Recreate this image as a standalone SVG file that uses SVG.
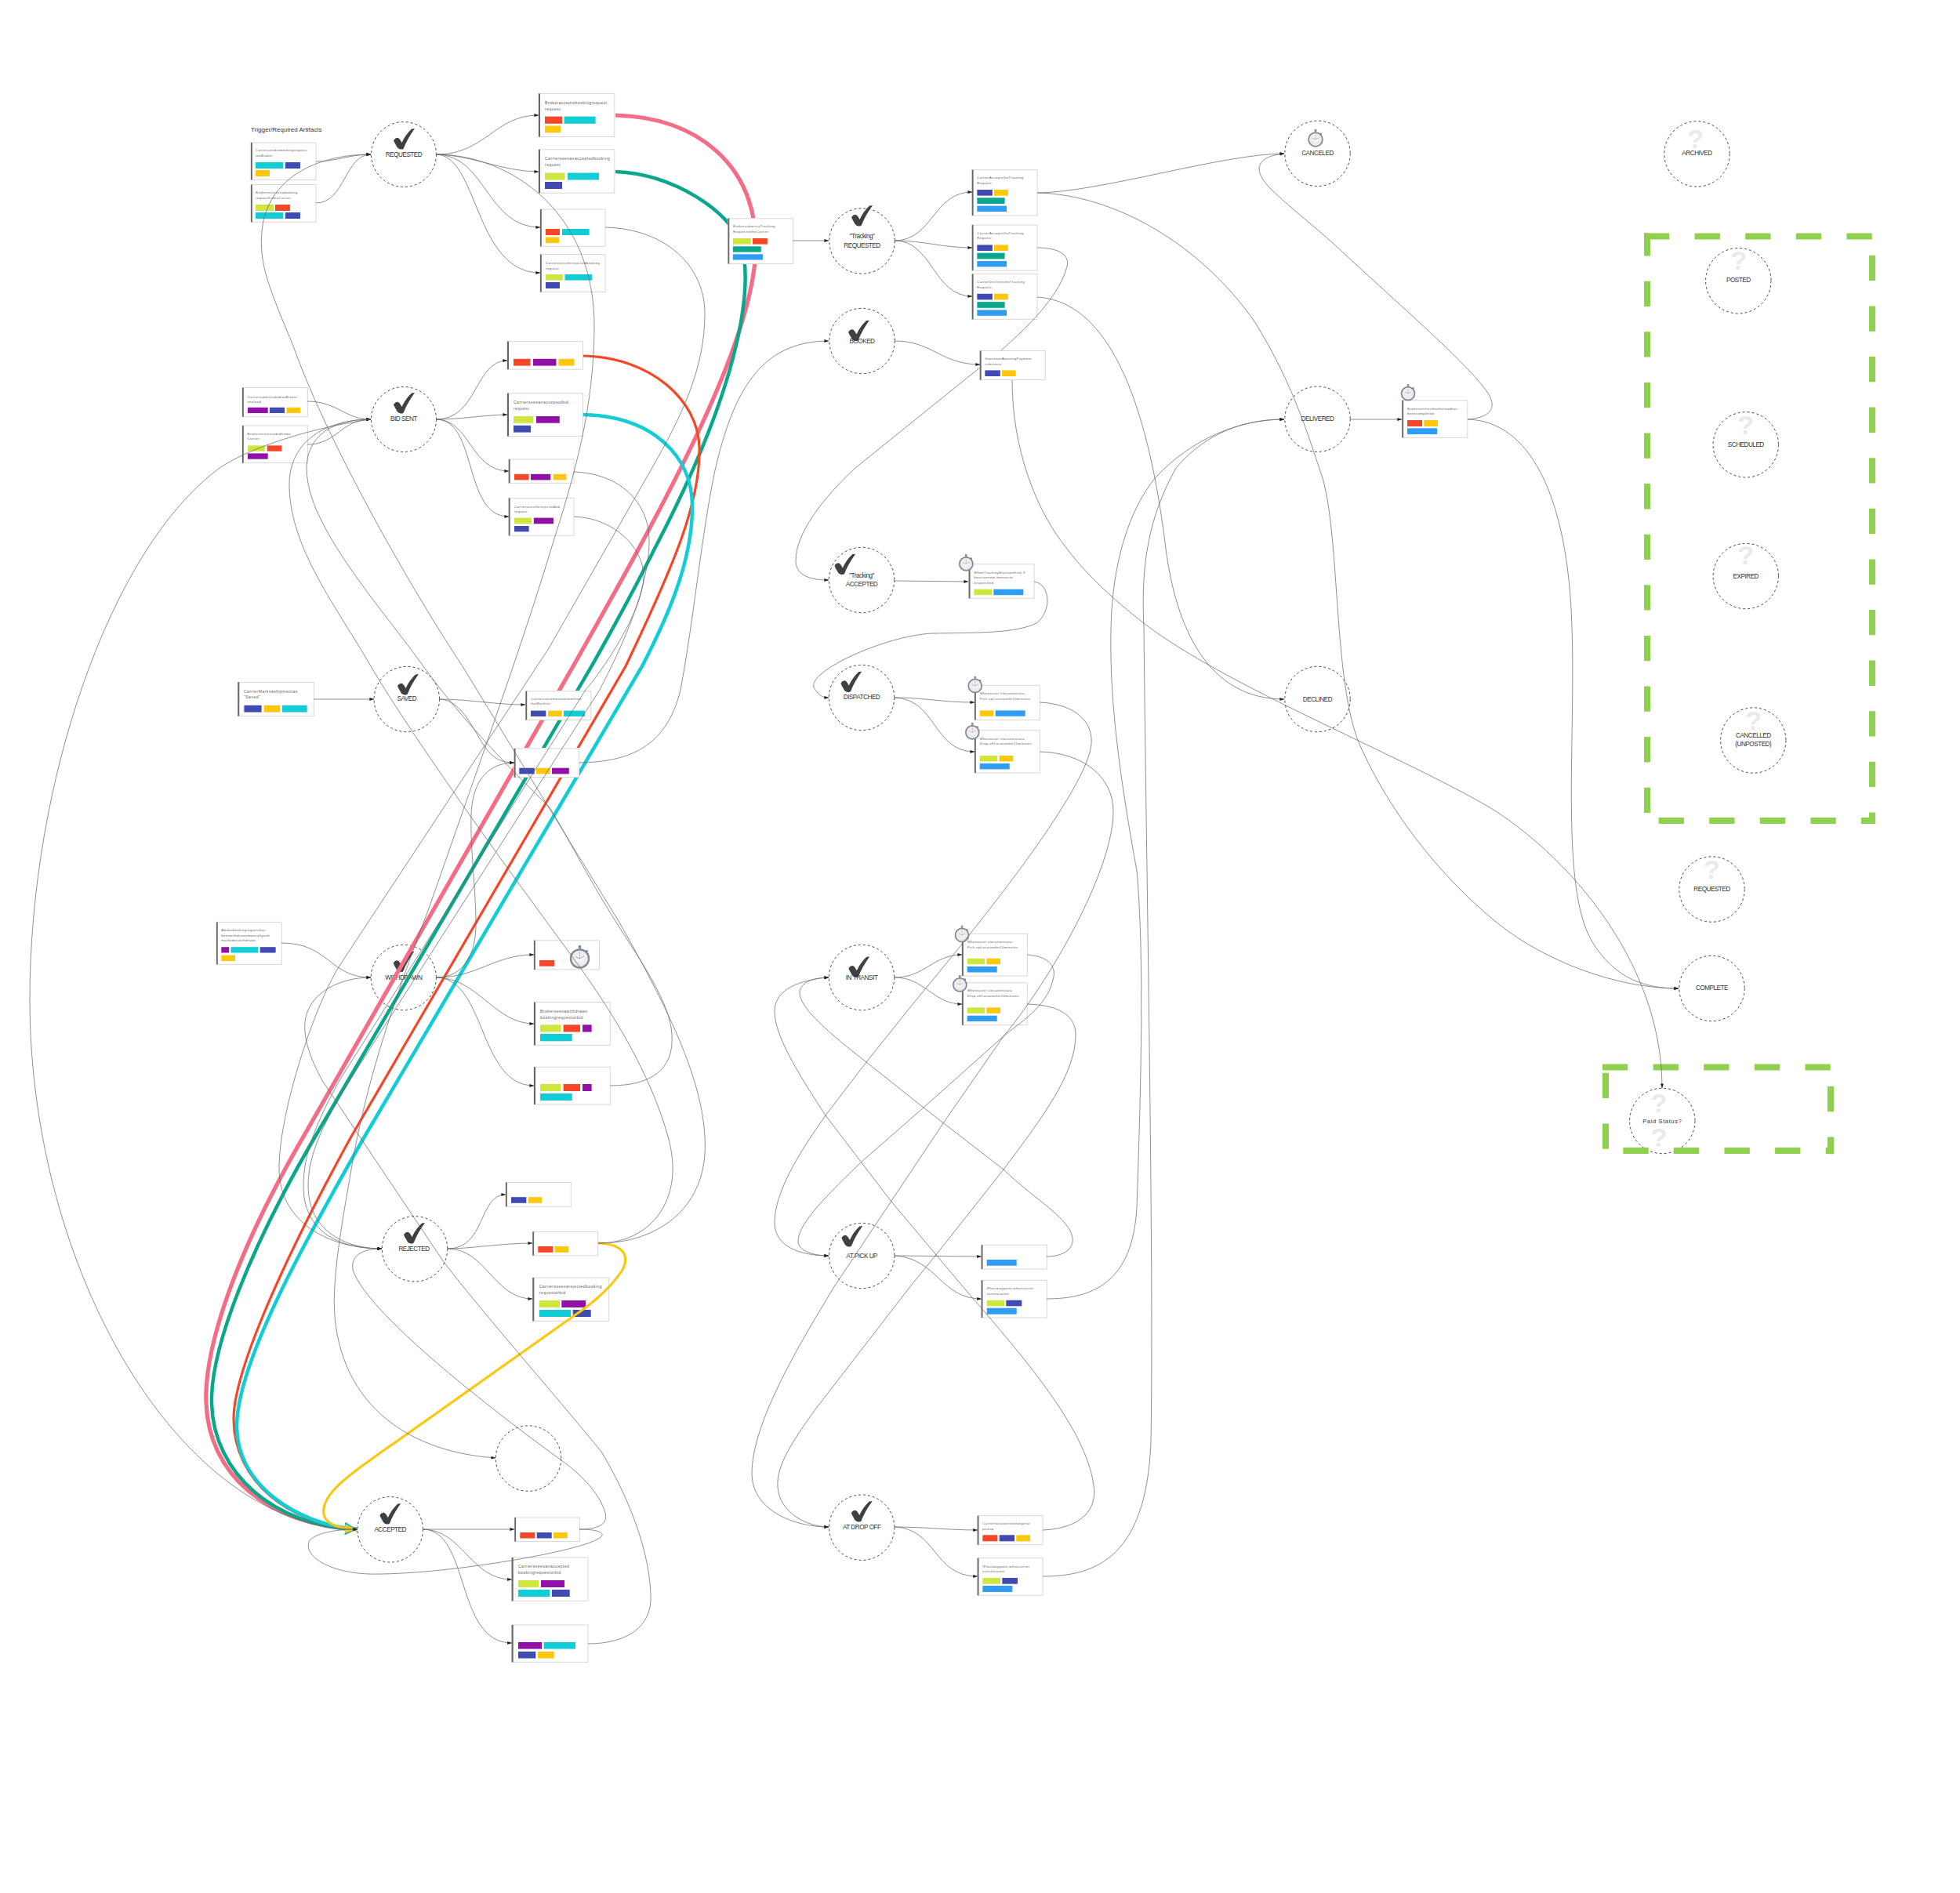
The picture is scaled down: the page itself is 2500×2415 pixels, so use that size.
<svg xmlns="http://www.w3.org/2000/svg" width="2500" height="2415" viewBox="0 0 2500 2415">
<style>
text{font-family:"Liberation Sans",Arial,sans-serif}
.box{fill:#fff;stroke:#d8d8d8;stroke-width:1}
.edge{fill:#666}
.st{fill:#fff;stroke:#444;stroke-width:1;stroke-dasharray:3 3}
.lb{font-size:8.2px;letter-spacing:-.5px;fill:#333;text-anchor:middle}
.s{font-size:4.2px;letter-spacing:.4px;fill:#5c5c5c}
.m{font-size:5px;letter-spacing:.5px;fill:#5c5c5c}
.q{font-size:34px;font-weight:bold;fill:#e9e9e9;text-anchor:middle}
.lime{fill:#cfe63e}.red{fill:#f44727}.cy{fill:#12ccd6}.bl{fill:#3f4bb3}.ye{fill:#fcc70f}.pu{fill:#9110a8}.te{fill:#0aa78a}.sk{fill:#2f9df3}
.zone{stroke:#8fd14f;stroke-width:8;stroke-dasharray:32.3 32.3;fill:none}
.c{fill:none;stroke:#6a6a6a;stroke-width:.75}
.a{marker-end:url(#arr)}
.thick{fill:none}
</style>
<defs>
<marker id="arr" markerUnits="userSpaceOnUse" markerWidth="7" markerHeight="5" refX="5.6" refY="2" orient="auto"><path d="M0 0L6 2L0 4Z" fill="#222"/></marker>
<marker id="hp" markerUnits="userSpaceOnUse" markerWidth="16" markerHeight="16" refX="15" refY="8" orient="auto"><path d="M0 0L15 8L0 16Z" fill="#f26d85"/></marker>
<marker id="ht" markerUnits="userSpaceOnUse" markerWidth="16" markerHeight="16" refX="15" refY="8" orient="auto"><path d="M0 0L15 8L0 16Z" fill="#0aa78a"/></marker>
<marker id="hr" markerUnits="userSpaceOnUse" markerWidth="16" markerHeight="16" refX="15" refY="8" orient="auto"><path d="M0 0L15 8L0 16Z" fill="#f44727"/></marker>
<marker id="hc" markerUnits="userSpaceOnUse" markerWidth="16" markerHeight="16" refX="15" refY="8" orient="auto"><path d="M0 0L15 8L0 16Z" fill="#12ccd6"/></marker>
<marker id="hy" markerUnits="userSpaceOnUse" markerWidth="16" markerHeight="16" refX="15" refY="8" orient="auto"><path d="M0 2.700L15 8L0 13.300Z" fill="#fcc70f"/></marker>
<symbol id="chk" viewBox="0 0 27 27"><path d="M0 15Q3 11 6 12Q8 13 10.500 18Q15 8 23 .5L27 0Q17 14 13 25Q12 27 9 26.500Q5 26 3 21Q1 18 0 15Z" fill="#404040"/></symbol>
<radialGradient id="face" cx=".5" cy=".45" r=".6"><stop offset="0" stop-color="#fafafa"/><stop offset=".8" stop-color="#e6e7e9"/><stop offset="1" stop-color="#b9bdc4"/></radialGradient>
<symbol id="watch" viewBox="0 0 20 24"><rect x="8.600" y="0" width="2.800" height="3.500" fill="#8a919c"/><circle cx="17" cy="6" r="1.300" fill="#6c86a8"/><circle cx="10" cy="13.500" r="9.300" fill="url(#face)" stroke="#7f8793" stroke-width="1.800"/><path d="M10 13.500L10 6.500" stroke="#e58f72" stroke-width=".6" fill="none"/><path d="M10 13.500L5.500 11.500M10 13.500L14.500 11" stroke="#777" stroke-width=".5" fill="none"/></symbol>
<mask id="behind" maskUnits="userSpaceOnUse" x="0" y="0" width="2500" height="2415"><rect width="2500" height="2415" fill="#fff"/><rect x="928" y="278" width="84" height="59" fill="#000"/><rect x="670" y="881" width="84" height="38" fill="#000"/><rect x="655" y="954" width="84" height="38" fill="#000"/><rect x="1249" y="447" width="85" height="38" fill="#000"/></mask>
</defs>
<rect width="2500" height="2415" fill="#fff"/>
<text x="320" y="168" font-size="8" fill="#333">Trigger/Required Artifacts</text>

<g id="st-requested"><circle class="st" cx="515" cy="197" r="41.500"/><use href="#chk" x="502" y="164" width="27" height="27"/><text class="lb" x="515" y="199.700">REQUESTED</text></g>
<g id="st-bid-sent"><circle class="st" cx="515" cy="535" r="41.500"/><use href="#chk" x="502" y="501" width="27" height="27"/><text class="lb" x="515" y="537.200">BID SENT</text></g>
<g id="st-saved"><circle class="st" cx="518.800" cy="892" r="41.700"/><use href="#chk" x="507" y="860" width="27" height="27"/><text class="lb" x="518.800" y="894">SAVED</text></g>
<g id="st-withdrawn"><circle class="st" cx="514.800" cy="1247" r="41.600"/><use href="#chk" x="501.600" y="1213.500" width="27" height="27"/><text class="lb" x="514.800" y="1249.700">WITHDRAWN</text></g>
<g id="st-rejected"><circle class="st" cx="529" cy="1593.300" r="41.700"/><use href="#chk" x="515" y="1560" width="27" height="27"/><text class="lb" x="528" y="1596">REJECTED</text></g>
<g id="st-empty"><circle class="st" cx="674" cy="1860.600" r="41.700"/></g>
<g id="st-accepted"><circle class="st" cx="497.700" cy="1951.300" r="41.700"/><use href="#chk" x="484.300" y="1918" width="27" height="27"/><text class="lb" x="497.700" y="1953.700">ACCEPTED</text></g>
<g id="st-tracking-requested"><circle class="st" cx="1099.500" cy="307.500" r="41.700"/><use href="#chk" x="1086" y="262" width="27" height="27"/><text class="lb" x="1099.500" y="304.400">"Tracking"</text><text class="lb" x="1099.500" y="315.500">REQUESTED</text></g>
<g id="st-booked"><circle class="st" cx="1099.500" cy="435" r="41.700"/><use href="#chk" x="1082" y="408.500" width="27" height="27"/><text class="lb" x="1099.500" y="437.700">BOOKED</text></g>
<g id="st-tracking-accepted"><circle class="st" cx="1099" cy="740" r="41.700"/><use href="#chk" x="1064.300" y="706.500" width="27" height="27"/><text class="lb" x="1099" y="737">"Tracking"</text><text class="lb" x="1099" y="748.200">ACCEPTED</text></g>
<g id="st-dispatched"><circle class="st" cx="1099" cy="890" r="41.700"/><use href="#chk" x="1072.300" y="856.500" width="27" height="27"/><text class="lb" x="1099" y="892.100">DISPATCHED</text></g>
<g id="st-in-transit"><circle class="st" cx="1099" cy="1247" r="41.700"/><use href="#chk" x="1082.300" y="1220.300" width="27" height="27"/><text class="lb" x="1099" y="1249.500">IN TRANSIT</text></g>
<g id="st-pick-up"><circle class="st" cx="1099.200" cy="1602" r="41.700"/><use href="#chk" x="1073.300" y="1564" width="27" height="27"/><text class="lb" x="1099.200" y="1604.700">AT PICK UP</text></g>
<g id="st-drop-off"><circle class="st" cx="1099.200" cy="1948.700" r="41.700"/><use href="#chk" x="1085.700" y="1915" width="27" height="27"/><text class="lb" x="1099.200" y="1951">AT DROP OFF</text></g>
<g id="st-canceled"><circle class="st" cx="1680.500" cy="195.800" r="41.700"/><use href="#watch" x="1668" y="165" width="20" height="23"/><text class="lb" x="1680.500" y="198.400">CANCELED</text></g>
<g id="st-delivered"><circle class="st" cx="1680.500" cy="534.700" r="41.700"/><text class="lb" x="1680.500" y="537">DELIVERED</text></g>
<g id="st-declined"><circle class="st" cx="1680.500" cy="892" r="41.700"/><text class="lb" x="1680.500" y="894.700">DECLINED</text></g>
<g id="st-archived"><circle class="st" cx="2164.500" cy="196.400" r="41.700"/><text class="q" x="2162.700" y="188.500">?</text><text class="lb" x="2164.500" y="198.200">ARCHIVED</text></g>
<g id="st-posted"><circle class="st" cx="2217.300" cy="358.200" r="41.700"/><text class="q" x="2217.700" y="343.500">?</text><text class="lb" x="2217.300" y="360">POSTED</text></g>
<g id="st-scheduled"><circle class="st" cx="2226.800" cy="567.300" r="41.700"/><text class="q" x="2226.700" y="553.500">?</text><text class="lb" x="2226.800" y="569.700">SCHEDULED</text></g>
<g id="st-expired"><circle class="st" cx="2226.800" cy="735" r="41.700"/><text class="q" x="2226.700" y="720">?</text><text class="lb" x="2226.800" y="737.700">EXPIRED</text></g>
<g id="st-cancelled-unposted"><circle class="st" cx="2236.300" cy="944.500" r="41.700"/><text class="q" x="2236.700" y="930.500">?</text><text class="lb" x="2236.300" y="941.200">CANCELLED</text><text class="lb" x="2236.300" y="952.100">(UNPOSTED)</text></g>
<g id="st-requested-2"><circle class="st" cx="2183.500" cy="1134.500" r="41.700"/><text class="q" x="2183.300" y="1120.800">?</text><text class="lb" x="2183.500" y="1136.700">REQUESTED</text></g>
<g id="st-complete"><circle class="st" cx="2183.500" cy="1261" r="41.700"/><text class="lb" x="2183.500" y="1263.400">COMPLETE</text></g>
<g id="st-paid"><circle class="st" cx="2120.300" cy="1430" r="41.700"/><text class="q" x="2116" y="1418.500">?</text><text class="q" x="2116" y="1462.500">?</text><text class="lb" x="2120.300" y="1432.700" style="letter-spacing:.6px;font-size:7.6px" fill="#555">Paid  Status?</text></g>

<g id="n-art1"><rect class="box" x="320" y="182" width="83" height="47.500"/><rect class="edge" x="320" y="182" width="1.800" height="47.500"/><text class="s" x="326" y="193">Carriersendsabookingrequest</text><text class="s" x="326" y="200">toaBroker</text><rect class="cy" x="326" y="207" width="35" height="8"/><rect class="bl" x="364" y="207" width="19" height="8"/><rect class="ye" x="326" y="217" width="18" height="8"/></g>
<g id="n-art2"><rect class="box" x="320" y="235.500" width="83" height="47.800"/><rect class="edge" x="320" y="235.500" width="1.800" height="47.800"/><text class="s" x="326" y="247">Brokerreceivesabooking</text><text class="s" x="326" y="254">requestfromaCarrier</text><rect class="lime" x="326" y="261" width="23" height="8"/><rect class="red" x="351" y="261" width="19" height="8"/><rect class="cy" x="326" y="271" width="35" height="8"/><rect class="bl" x="364" y="271" width="19" height="8"/></g>
<g id="n-b1"><rect class="box" x="687" y="119.500" width="96.700" height="55"/><rect class="edge" x="687" y="119.500" width="2" height="55"/><text class="m" x="695" y="133">Brokeracceptsbookingrequest</text><text class="m" x="695" y="140.700">request</text><rect class="red" x="695" y="148.600" width="22" height="9.200"/><rect class="cy" x="719.600" y="148.600" width="40" height="9.200"/><rect class="ye" x="695" y="160.500" width="20" height="8.800"/></g>
<g id="n-b2"><rect class="box" x="687" y="190.700" width="96.700" height="55.500"/><rect class="edge" x="687" y="190.700" width="2" height="55.500"/><text class="m" x="695" y="204">Carrierseesanacceptedbooking</text><text class="m" x="695" y="212">request</text><rect class="lime" x="695" y="220.500" width="25.500" height="9"/><rect class="cy" x="724" y="220.500" width="40" height="9"/><rect class="bl" x="695" y="232" width="22" height="9"/></g>
<g id="n-b3"><rect class="box" x="689" y="267" width="83" height="47.300"/><rect class="edge" x="689" y="267" width="1.800" height="47.300"/><rect class="red" x="696" y="292" width="18" height="8"/><rect class="cy" x="717" y="292" width="34.600" height="8"/><rect class="ye" x="696" y="302.500" width="17" height="7.600"/></g>
<g id="n-b4"><rect class="box" x="689" y="324.600" width="83" height="47.900"/><rect class="edge" x="689" y="324.600" width="1.800" height="47.900"/><text class="s" x="696" y="337">Carriesseestherejectedbooking</text><text class="s" x="696" y="343.500">request</text><rect class="lime" x="696" y="350" width="22" height="7.600"/><rect class="cy" x="720.500" y="350" width="34.500" height="7.600"/><rect class="bl" x="696" y="360" width="18" height="8"/></g>
<g id="n-tracking"><rect class="box" x="928.500" y="278.700" width="83" height="57.800"/><rect class="edge" x="928.500" y="278.700" width="1.800" height="57.800"/><text class="s" x="935" y="290.400">BrokersubmitsaTracking</text><text class="s" x="935" y="296.900">RequesttotheCarrier</text><rect class="lime" x="934.800" y="304" width="23" height="7.600"/><rect class="red" x="960" y="304" width="18.800" height="7.600"/><rect class="te" x="934.800" y="314.300" width="36" height="7.300"/><rect class="sk" x="934.800" y="324.300" width="38.200" height="7.200"/></g>
<g id="n-ca1"><rect class="box" x="1239.800" y="216.700" width="83.200" height="58.300"/><rect class="edge" x="1239.800" y="216.700" width="1.800" height="58.300"/><text class="s" x="1246.300" y="228.300">CarrierAcceptstheTracking</text><text class="s" x="1246.300" y="235">Request</text><rect class="bl" x="1246.300" y="242" width="19.600" height="7.600"/><rect class="ye" x="1268" y="242" width="17.800" height="7.600"/><rect class="te" x="1246.300" y="252.300" width="35.300" height="7.700"/><rect class="sk" x="1246.300" y="262.600" width="37.700" height="7.400"/></g>
<g id="n-ca2"><rect class="box" x="1239.800" y="287" width="83.200" height="58"/><rect class="edge" x="1239.800" y="287" width="1.800" height="58"/><text class="s" x="1246.300" y="298.700">CarrierAcceptstheTracking</text><text class="s" x="1246.300" y="305.400">Request</text><rect class="bl" x="1246.300" y="312.400" width="19.600" height="7.600"/><rect class="ye" x="1268" y="312.400" width="17.800" height="7.600"/><rect class="te" x="1246.300" y="322.700" width="35.300" height="7.700"/><rect class="sk" x="1246.300" y="333" width="37.700" height="7.400"/></g>
<g id="n-cd"><rect class="box" x="1239.800" y="349.500" width="83.200" height="57.800"/><rect class="edge" x="1239.800" y="349.500" width="1.800" height="57.800"/><text class="s" x="1246.300" y="361.100">CarrierDeclinestheTracking</text><text class="s" x="1246.300" y="367.800">Request</text><rect class="bl" x="1246.300" y="374.800" width="19.600" height="7.600"/><rect class="ye" x="1268" y="374.800" width="17.800" height="7.600"/><rect class="te" x="1246.300" y="385.100" width="35.300" height="7.700"/><rect class="sk" x="1246.300" y="395.400" width="37.700" height="7.400"/></g>
<g id="n-awaiting"><rect class="box" x="1249.800" y="447.500" width="83.400" height="37.100"/><rect class="edge" x="1249.800" y="447.500" width="1.800" height="37.100"/><text class="s" x="1256.300" y="459">GoestoanAwaitingPayment</text><text class="s" x="1256.300" y="465.600">substatus</text><rect class="bl" x="1256.300" y="472.400" width="19.500" height="7.600"/><rect class="ye" x="1278" y="472.400" width="17.700" height="7.600"/></g>
<g id="n-art3"><rect class="box" x="309" y="494.600" width="83.400" height="37.100"/><rect class="edge" x="309" y="494.600" width="1.800" height="37.100"/><text class="s" x="315.500" y="507.500">CarriersubmitsabidtoaBroker</text><text class="s" x="315.500" y="514">onaload</text><rect class="pu" x="316" y="519.800" width="25.700" height="7.200"/><rect class="bl" x="344" y="519.800" width="19" height="7.200"/><rect class="ye" x="365.600" y="519.800" width="17.400" height="7.200"/></g>
<g id="n-art4"><rect class="box" x="309" y="543" width="83.400" height="47.600"/><rect class="edge" x="309" y="543" width="1.800" height="47.600"/><text class="s" x="315.500" y="554.500">Brokerreceivesabidfroma</text><text class="s" x="315.500" y="561">Carrier</text><rect class="lime" x="316" y="568.400" width="22" height="7.300"/><rect class="red" x="340.700" y="568.400" width="18.700" height="7.300"/><rect class="pu" x="316" y="578.400" width="25.700" height="7.300"/></g>
<g id="n-bid1"><rect class="box" x="647" y="435.600" width="96.500" height="35.600"/><rect class="edge" x="647" y="435.600" width="2" height="35.600"/><rect class="red" x="655" y="457.800" width="21.500" height="8.800"/><rect class="pu" x="680" y="457.800" width="29.500" height="8.800"/><rect class="ye" x="712.400" y="457.800" width="20.100" height="8.800"/></g>
<g id="n-bid2"><rect class="box" x="647" y="501.800" width="96.500" height="54.800"/><rect class="edge" x="647" y="501.800" width="2" height="54.800"/><text class="m" x="655" y="515">Carrierseesanacceptedbid</text><text class="m" x="655" y="523">request</text><rect class="lime" x="655" y="531" width="25.300" height="8.700"/><rect class="pu" x="684" y="531" width="29.800" height="8.700"/><rect class="bl" x="655" y="542.800" width="22" height="8.800"/></g>
<g id="n-bid3"><rect class="box" x="648.800" y="586" width="83.200" height="30.300"/><rect class="edge" x="648.800" y="586" width="1.800" height="30.300"/><rect class="red" x="656" y="604.800" width="18.600" height="7.600"/><rect class="pu" x="677" y="604.800" width="25.300" height="7.600"/><rect class="ye" x="705.700" y="604.800" width="16.700" height="7.600"/></g>
<g id="n-bid4"><rect class="box" x="648.800" y="635.400" width="83.200" height="47.800"/><rect class="edge" x="648.800" y="635.400" width="1.800" height="47.800"/><text class="s" x="656" y="647.500">Carrierseestherejectedbid</text><text class="s" x="656" y="654.200">request</text><rect class="lime" x="656" y="660.600" width="22" height="7.700"/><rect class="pu" x="680.800" y="660.600" width="25.200" height="7.700"/><rect class="bl" x="656" y="671" width="18.600" height="7.300"/></g>
<g id="n-saved"><rect class="box" x="303.300" y="870.300" width="97.200" height="43.200"/><rect class="edge" x="303.300" y="870.300" width="2" height="43.200"/><text class="m" x="311" y="883.700">CarrierMarksashipmentas</text><text class="m" x="311" y="891.100">"Saved"</text><rect class="bl" x="311.400" y="899.800" width="22.200" height="8.800"/><rect class="ye" x="336.600" y="899.800" width="20.400" height="8.800"/><rect class="cy" x="360" y="899.800" width="31.700" height="8.800"/></g>
<g id="n-worklist"><rect class="box" x="670.400" y="881.800" width="83.400" height="36.700"/><rect class="edge" x="670.400" y="881.800" width="1.800" height="36.700"/><text class="s" x="677" y="892.600">Carriercanremoveanitemfrom</text><text class="s" x="677" y="899.400">theWorklist</text><rect class="bl" x="677" y="906.600" width="19.400" height="7.400"/><rect class="ye" x="699" y="906.600" width="17.700" height="7.400"/><rect class="cy" x="719" y="906.600" width="27" height="7.400"/></g>
<g id="n-saved2"><rect class="box" x="655.800" y="954.900" width="83" height="36.700"/><rect class="edge" x="655.800" y="954.900" width="1.800" height="36.700"/><rect class="bl" x="662.300" y="979.700" width="19.500" height="7.700"/><rect class="ye" x="684" y="979.700" width="17.700" height="7.700"/><rect class="pu" x="704" y="979.700" width="21.800" height="7.700"/></g>
<g id="n-wd-in"><rect class="box" x="276" y="1176.400" width="83.200" height="54"/><rect class="edge" x="276" y="1176.400" width="1.800" height="54"/><text class="s" x="282.300" y="1188">Abidorbookingrequesthas</text><text class="s" x="282.300" y="1194.900">beenwithdrawnmanuallyand</text><text class="s" x="282.300" y="1201">markedaswithdrawn</text><rect class="pu" x="282.300" y="1208.200" width="9.900" height="7.300"/><rect class="cy" x="294.500" y="1208.200" width="34.900" height="7.300"/><rect class="bl" x="331.700" y="1208.200" width="19.900" height="7.300"/><rect class="ye" x="282.300" y="1218.500" width="17.700" height="7.700"/></g>
<g id="n-wd1"><rect class="box" x="681" y="1199.800" width="83.500" height="37.100"/><rect class="edge" x="681" y="1199.800" width="1.800" height="37.100"/><rect class="red" x="688" y="1225" width="19" height="7.700"/><use href="#watch" x="727" y="1206" width="25" height="30"/></g>
<g id="n-wd2"><rect class="box" x="681" y="1278.600" width="97.300" height="54.800"/><rect class="edge" x="681" y="1278.600" width="2" height="54.800"/><text class="m" x="689" y="1291.700">Brokerseesawithdrawn</text><text class="m" x="689" y="1299.500">bookingrequestorbid</text><rect class="lime" x="689" y="1307.300" width="26.500" height="9.200"/><rect class="red" x="718.600" y="1307.300" width="21.400" height="9.200"/><rect class="pu" x="743" y="1307.300" width="11.600" height="9.200"/><rect class="cy" x="689" y="1319" width="40.700" height="9.300"/></g>
<g id="n-wd3"><rect class="box" x="681" y="1361.300" width="97.300" height="47.700"/><rect class="edge" x="681" y="1361.300" width="2" height="47.700"/><rect class="lime" x="689" y="1383" width="26.500" height="9"/><rect class="red" x="718.600" y="1383" width="21.400" height="9"/><rect class="pu" x="743" y="1383" width="11.600" height="9"/><rect class="cy" x="689" y="1395" width="40.700" height="9"/></g>
<g id="n-r1"><rect class="box" x="645" y="1508.500" width="83.300" height="30.800"/><rect class="edge" x="645" y="1508.500" width="1.800" height="30.800"/><rect class="bl" x="652" y="1527.200" width="19.300" height="7.600"/><rect class="ye" x="673.700" y="1527.200" width="17.600" height="7.600"/></g>
<g id="n-r2"><rect class="box" x="679.300" y="1571.400" width="83.400" height="30.400"/><rect class="edge" x="679.300" y="1571.400" width="1.800" height="30.400"/><rect class="red" x="686.300" y="1590" width="19" height="7.800"/><rect class="ye" x="707.700" y="1590" width="17.600" height="7.800"/></g>
<g id="n-r3"><rect class="box" x="679.300" y="1630" width="97.400" height="55.300"/><rect class="edge" x="679.300" y="1630" width="2" height="55.300"/><text class="m" x="687.700" y="1643.200">Carriersseesarejectedbooking</text><text class="m" x="687.700" y="1650.700">requestorbid</text><rect class="lime" x="687.700" y="1659" width="26.300" height="9"/><rect class="pu" x="716.300" y="1659" width="30.700" height="9"/><rect class="cy" x="687.700" y="1671" width="40.300" height="9"/><rect class="bl" x="730.700" y="1671" width="23" height="9"/></g>
<g id="n-a1"><rect class="box" x="656.300" y="1936" width="83" height="30.500"/><rect class="edge" x="656.300" y="1936" width="1.800" height="30.500"/><rect class="red" x="663.300" y="1955" width="19" height="7.500"/><rect class="bl" x="684.700" y="1955" width="19" height="7.500"/><rect class="ye" x="706" y="1955" width="17.700" height="7.500"/></g>
<g id="n-a2"><rect class="box" x="652.700" y="1987" width="97.300" height="55.400"/><rect class="edge" x="652.700" y="1987" width="2" height="55.400"/><text class="m" x="661" y="2000.300">Carriersseesanaccepted</text><text class="m" x="661" y="2007.700">bookingrequestorbid</text><rect class="lime" x="661" y="2016" width="26" height="9"/><rect class="pu" x="690" y="2016" width="30" height="9"/><rect class="cy" x="661" y="2028" width="40" height="9"/><rect class="bl" x="704" y="2028" width="22.700" height="9"/></g>
<g id="n-a3"><rect class="box" x="652.700" y="2073" width="97.300" height="47.500"/><rect class="edge" x="652.700" y="2073" width="2" height="47.500"/><rect class="pu" x="661" y="2095" width="30" height="8.600"/><rect class="cy" x="693.700" y="2095" width="40.300" height="8.600"/><rect class="bl" x="661" y="2107" width="22.300" height="8.600"/><rect class="ye" x="686" y="2107" width="20.700" height="8.600"/></g>
<g id="n-tb"><rect class="box" x="1235.700" y="719.800" width="83.300" height="43.500"/><rect class="edge" x="1235.700" y="719.800" width="1.800" height="43.500"/><text class="s" x="1242.300" y="731.500">WhenTrackingStartswithin0-3</text><text class="s" x="1242.300" y="738.100">hoursonnow,itmovesto</text><text class="s" x="1242.300" y="744.700">Dispatched</text><rect class="lime" x="1242.300" y="751.700" width="22.700" height="7.500"/><rect class="sk" x="1267.300" y="751.700" width="38" height="7.500"/><use href="#watch" x="1222.300" y="707" width="20" height="22"/></g>
<g id="n-pickup"><rect class="box" x="1243" y="874.400" width="83.300" height="44"/><rect class="edge" x="1243" y="874.400" width="1.800" height="44"/><text class="s" x="1249.700" y="886.100">Whenauser'slocationisata</text><text class="s" x="1249.700" y="892.700">Pick-upLocationfor10minutes</text><rect class="ye" x="1249.700" y="906.400" width="17.600" height="7.400"/><rect class="sk" x="1269.700" y="906.400" width="38" height="7.400"/><use href="#watch" x="1233.700" y="862.600" width="20" height="22"/></g>
<g id="n-dropoff"><rect class="box" x="1243" y="931.700" width="83.300" height="54.300"/><rect class="edge" x="1243" y="931.700" width="1.800" height="54.300"/><text class="s" x="1249.700" y="943.700">Whenauser'slocationisata</text><text class="s" x="1249.700" y="950.400">Drop-offLocationfor10minutes</text><rect class="lime" x="1249.700" y="964" width="22.600" height="7.500"/><rect class="ye" x="1274.700" y="964" width="17.600" height="7.500"/><rect class="sk" x="1249.700" y="974" width="38" height="7.400"/><use href="#watch" x="1230.300" y="922" width="20" height="22"/></g>
<g id="n-tp"><rect class="box" x="1227" y="1191.200" width="83.300" height="53.800"/><rect class="edge" x="1227" y="1191.200" width="1.800" height="53.800"/><text class="s" x="1233.700" y="1202.700">Whenauser'slocationisata</text><text class="s" x="1233.700" y="1209.500">Pick-upLocationfor10minutes</text><rect class="lime" x="1233.700" y="1222.700" width="22.300" height="7.500"/><rect class="ye" x="1258.300" y="1222.700" width="17.700" height="7.500"/><rect class="sk" x="1233.700" y="1233" width="38" height="7.500"/><use href="#watch" x="1217" y="1180.600" width="20" height="22"/></g>
<g id="n-td"><rect class="box" x="1227" y="1253.800" width="83.300" height="53.900"/><rect class="edge" x="1227" y="1253.800" width="1.800" height="53.900"/><text class="s" x="1233.700" y="1265.400">Whenauser'slocationisata</text><text class="s" x="1233.700" y="1272.100">Drop-offLocationfor10minutes</text><rect class="lime" x="1233.700" y="1285.300" width="22.300" height="7.500"/><rect class="ye" x="1258.300" y="1285.300" width="17.700" height="7.500"/><rect class="sk" x="1233.700" y="1295.700" width="38" height="7.300"/><use href="#watch" x="1214.300" y="1244" width="20" height="22"/></g>
<g id="n-p1"><rect class="box" x="1251.700" y="1588.300" width="83.600" height="30.700"/><rect class="edge" x="1251.700" y="1588.300" width="1.800" height="30.700"/><rect class="sk" x="1258.700" y="1607" width="38" height="7.700"/></g>
<g id="n-p2"><rect class="box" x="1251.700" y="1633.300" width="83.600" height="47.700"/><rect class="edge" x="1251.700" y="1633.300" width="1.800" height="47.700"/><text class="s" x="1258.700" y="1645.400">IFlastwaypoint,whencarrier</text><text class="s" x="1258.700" y="1651.700">exitslocation</text><rect class="lime" x="1258.700" y="1658.700" width="22.300" height="7.600"/><rect class="bl" x="1283.300" y="1658.700" width="20" height="7.600"/><rect class="sk" x="1258.700" y="1668.700" width="38" height="8"/></g>
<g id="n-d1"><rect class="box" x="1246.700" y="1933.700" width="83.300" height="37"/><rect class="edge" x="1246.700" y="1933.700" width="1.800" height="37"/><text class="s" x="1253.300" y="1945.400">Carrierlocationisnolongerat</text><text class="s" x="1253.300" y="1951.700">pickup</text><rect class="red" x="1253.300" y="1958.300" width="19" height="8"/><rect class="bl" x="1274.700" y="1958.300" width="19.300" height="8"/><rect class="ye" x="1296.300" y="1958.300" width="17.700" height="8"/></g>
<g id="n-d2"><rect class="box" x="1246.700" y="1987.700" width="83.300" height="47.600"/><rect class="edge" x="1246.700" y="1987.700" width="1.800" height="47.600"/><text class="s" x="1253.300" y="1999.700">IFlastwaypoint,whencarrier</text><text class="s" x="1253.300" y="2006">exitslocation</text><rect class="lime" x="1253.300" y="2013" width="22.700" height="7.700"/><rect class="bl" x="1278.300" y="2013" width="19.700" height="7.700"/><rect class="sk" x="1253.300" y="2023" width="38" height="8"/></g>
<g id="n-verify"><rect class="box" x="1788.300" y="510.700" width="83.400" height="47.600"/><rect class="edge" x="1788.300" y="510.700" width="1.800" height="47.600"/><text class="s" x="1795" y="523">Brokerverifiesthattheloadhas</text><text class="s" x="1795" y="529.400">beencompleted</text><rect class="red" x="1795" y="536" width="19" height="8"/><rect class="ye" x="1816.300" y="536" width="17.700" height="8"/><rect class="sk" x="1795" y="546.300" width="38" height="7.700"/><use href="#watch" x="1786" y="489.700" width="20" height="22"/></g>

<g id="zones">
<line class="zone" x1="2097" y1="301.500" x2="2392" y2="301.500"/>
<line class="zone" x1="2388" y1="325.800" x2="2388" y2="1051"/>
<line class="zone" x1="2392" y1="1047" x2="2105" y2="1047" stroke-dashoffset="14.300"/>
<line class="zone" x1="2101" y1="1037" x2="2101" y2="297.300"/>
<line class="zone" x1="2044" y1="1361.500" x2="2339" y2="1361.500"/>
<line class="zone" x1="2335" y1="1386" x2="2335" y2="1472.300"/>
<line class="zone" x1="2339" y1="1468" x2="2052" y2="1468" stroke-dashoffset="22"/>
<line class="zone" x1="2048" y1="1465.700" x2="2048" y2="1365"/>
</g>

<g id="connectors">
<g mask="url(#behind)">
<path class="thick" stroke="#f26d85" stroke-width="5.200" marker-end="url(#hp)" d="M785,147C890,150 962,210 964,310C966,430 850,640 731,850L387,1450C300,1600 260,1720 263,1790C266,1880 340,1945 455,1951"/>
<path class="thick" stroke="#0aa78a" stroke-width="4.500" marker-end="url(#ht)" d="M785,219C860,222 930,270 945,310C960,360 950,480 835,700C810,750 780,805 754.500,850L402,1450C320,1590 268,1720 270,1790C272,1880 350,1947 455,1951"/>
<path class="thick" stroke="#f44727" stroke-width="3.200" marker-end="url(#hr)" d="M744,454C830,456 890,510 892,570C894,640 860,720 798,850L448,1450C360,1610 298,1750 298,1810C298,1890 370,1945 455,1951"/>
<path class="thick" stroke="#12ccd6" stroke-width="4.500" marker-end="url(#hc)" d="M744,529C830,531 885,580 883,650C882,720 850,790 819,850L465,1450C385,1590 302,1740 302,1820C302,1895 380,1945 455,1951"/>
<path class="c a" d="M1323,316C1350,316 1365,325 1361,340C1350,385 1290,435 1277,447L1091,597C1050,635 1015,680 1015,715C1015,735 1035,740 1057,740"/>
</g>
<path class="thick" stroke="#fcc70f" stroke-width="3.200" marker-end="url(#hy)" d="M763,1586C790,1587 805,1598 794,1620C778,1645 755,1663 733,1678L510,1836C450,1878 408,1905 413,1932C416,1946 435,1950 455,1951"/>
<path class="c a" d="M403,206C430,206 445,197 473,197"/>
<path class="c a" d="M403,259C440,259 440,197 473,197"/>
<path class="c a" d="M556,197C620,197 630,147 687,147"/>
<path class="c a" d="M556,197C600,197 640,219 687,219"/>
<path class="c a" d="M556,197C620,197 620,290 689,290"/>
<path class="c a" d="M556,197C610,197 605,348 689,348"/>
<path class="c a" d="M556,197C650,197 760,270 758,420C757,520 735,600 703,700C670,810 620,950 548,1156C505,1270 470,1370 450,1480C440,1540 430,1590 427,1640C418,1760 490,1850 632,1860"/>
<path class="c a" d="M763,1586C840,1586 905,1540 899,1450C895,1380 860,1300 789,1175L674,988L590,850C530,760 420,570 375,444C345,370 330,340 334,295C340,230 400,197 473,197"/>
<path class="c a" d="M763,1586C830,1586 875,1530 852,1450C830,1370 780,1290 739,1233L663,1129C620,1070 520,930 473,850C430,775 370,700 369,620C368,560 420,535 473,535"/>
<path class="c a" d="M778,1385C830,1385 860,1365 857,1320C855,1280 820,1230 785,1175C750,1120 720,1060 701,1030C660,990 590,920 540,850C490,780 400,680 392,610C385,560 420,535 473,535"/>
<path class="c a" d="M392,512C430,512 440,535 473,535"/>
<path class="c a" d="M392,567C430,567 435,535 473,535"/>
<path class="c a" d="M556,535C610,535 605,460 647,460"/>
<path class="c a" d="M556,535C590,535 620,529 647,529"/>
<path class="c a" d="M556,535C600,535 600,601 649,601"/>
<path class="c a" d="M556,535C610,535 590,659 649,659"/>
<path class="c a" d="M473,535C400,545 320,570 280,597C140,700 38,1000 38,1275C38,1620 230,1951 456,1951"/>
<path class="c a" d="M739,1951C760,1951 775,1955 765,1962C740,1980 560,2010 470,2008C420,2006 385,1985 395,1965C405,1955 430,1951 456,1951"/>
<path class="c a" d="M739,1951C762,1951 776,1945 772,1930C765,1905 740,1880 716,1863C650,1815 470,1680 450,1620C447,1600 465,1593 487,1593"/>
<path class="c a" d="M750,2097C800,2097 832,2075 830,2035C828,1965 790,1890 767,1852C700,1770 620,1680 566,1610L412,1380C395,1350 385,1320 390,1298C397,1265 435,1247 473,1247"/>
<path class="c a" d="M539,1951L656,1951"/>
<path class="c a" d="M539,1951C590,1951 600,2015 652.700,2015"/>
<path class="c a" d="M539,1951C600,1951 580,2096 652.700,2096"/>
<path class="c a" d="M571,1593C620,1593 610,1524 645,1524"/>
<path class="c a" d="M571,1593C600,1593 640,1586 679,1586"/>
<path class="c a" d="M571,1593C620,1593 630,1657 679,1657"/>
<path class="c a" d="M772,290C850,292 899,340 899,400C899,470 870,530 830,600L700,827L433,1232C400,1285 356,1420 356,1490C356,1560 420,1593 487,1593"/>
<path class="c a" d="M732,602C790,604 828,640 828,690C828,760 780,850 765,880L445,1380C415,1430 393,1470 393,1513C393,1570 440,1593 487,1593"/>
<path class="c a" d="M732,659C785,661 821,700 821,735C821,780 765,860 747,880L432,1380C405,1430 387,1470 387,1513C387,1570 430,1593 487,1593"/>
<path class="c a" d="M400,892L477,892"/>
<path class="c a" d="M560,892C600,892 630,899 670,899"/>
<path class="c a" d="M560,892C590,892 605,935 620,955C630,968 640,973 655.800,973"/>
<path class="c a" d="M556,1247C590,1247 608,1220 607,1175C606,1120 600,1090 601,1040C602,1000 620,973 655.800,973"/>
<path class="c a" d="M359,1203C420,1203 420,1247 473,1247"/>
<path class="c a" d="M556,1247C610,1247 630,1218 681,1218"/>
<path class="c a" d="M556,1247C610,1247 630,1306 681,1306"/>
<path class="c a" d="M556,1247C620,1247 610,1385 681,1385"/>
<path class="c a" d="M739,973C800,972 850,955 868,880C885,790 895,680 912,600C935,500 970,435 1057,435"/>
<path class="c a" d="M1011,307L1057,307"/>
<path class="c a" d="M1141,307C1190,307 1190,245 1240,245"/>
<path class="c a" d="M1141,307C1180,307 1200,316 1240,316"/>
<path class="c a" d="M1141,307C1190,307 1190,378 1240,378"/>
<path class="c a" d="M1323,246C1400,246 1560,196 1638,196"/>
<path class="c a" d="M1323,246C1420,248 1530,310 1600,410C1650,490 1670,560 1687,610C1710,690 1700,880 1737,956C1780,1050 1850,1130 1913,1180C1970,1225 2060,1261 2141,1261"/>
<path class="c a" d="M1323,379C1430,385 1470,560 1487,700C1500,800 1540,892 1638,892"/>
<path class="c a" d="M1291,485C1291,570 1320,650 1361,700C1390,740 1440,780 1450,788C1550,870 1780,960 1900,1030C1990,1085 2120,1220 2120,1388"/>
<path class="c a" d="M1141,435C1190,435 1200,465 1250,465"/>
<path class="c a" d="M1141,741L1235,742"/>
<path class="c a" d="M1319,742C1340,745 1342,780 1322,795C1295,808 1250,807 1190,808C1130,810 1020,860 1040,880C1045,888 1050,890 1057,890"/>
<path class="c a" d="M1141,890C1180,890 1200,896 1243,896"/>
<path class="c a" d="M1141,890C1195,892 1190,959 1243,959"/>
<path class="c a" d="M1326,896C1375,898 1400,925 1390,960C1370,1030 1240,1190 1165,1280L1105,1355L1053,1423C1020,1470 988,1520 988,1560C988,1590 1020,1602 1057,1602"/>
<path class="c a" d="M1326,959C1380,960 1420,990 1420,1035C1420,1110 1340,1250 1280,1322L1203,1433L1137,1532L1065,1640C1010,1730 959,1820 959,1880C959,1925 1010,1948 1057,1948"/>
<path class="c a" d="M1310,1218C1340,1220 1348,1235 1343,1250C1335,1285 1300,1305 1280,1322L1178,1413L1098,1483C1060,1520 1018,1560 1018,1583C1018,1597 1040,1602 1057,1602"/>
<path class="c a" d="M1310,1281C1350,1282 1372,1295 1372,1320C1372,1370 1330,1425 1280,1492L1193,1602L1162,1640L1040,1798C1010,1840 990,1870 992,1897C994,1930 1030,1948 1057,1948"/>
<path class="c a" d="M1141,1247C1180,1247 1190,1218 1227,1218"/>
<path class="c a" d="M1141,1247C1180,1247 1190,1281 1227,1281"/>
<path class="c a" d="M1335,1603C1360,1603 1375,1590 1365,1570C1350,1545 1320,1530 1280,1492L1178,1413L1105,1355C1060,1320 1018,1285 1020,1265C1022,1252 1040,1247 1057,1247"/>
<path class="c a" d="M1330,1952C1380,1950 1400,1925 1395,1895C1385,1820 1300,1725 1227,1640L1137,1533L1053,1423C1015,1365 988,1320 988,1290C988,1262 1020,1250 1057,1247"/>
<path class="c a" d="M1141,1602L1251.700,1603"/>
<path class="c a" d="M1141,1602C1195,1605 1200,1657 1251.700,1657"/>
<path class="c a" d="M1141,1948C1180,1948 1210,1952 1246.700,1952"/>
<path class="c a" d="M1141,1948C1195,1950 1190,2011 1246.700,2011"/>
<path class="c a" d="M1335,1657C1395,1657 1445,1635 1450,1540C1455,1400 1460,1220 1450,1111C1430,1000 1415,900 1417,804C1418,720 1440,650 1474,609C1520,560 1580,535 1638,535"/>
<path class="c a" d="M1330,2011C1400,2011 1462,1985 1468,1840C1472,1600 1462,1100 1459,800C1455,720 1465,660 1500,597C1540,550 1590,535 1638,535"/>
<path class="c a" d="M1722,535L1788,535"/>
<path class="c a" d="M1872,535C1950,537 2000,630 2005,800C2010,950 1990,1130 2030,1200C2060,1250 2100,1261 2141,1261"/>
<path class="c a" d="M1872,535C1895,533 1910,525 1900,505C1880,470 1780,385 1700,310C1660,275 1640,260 1620,240C1600,220 1598,200 1638,196"/>
</g>
</svg>
